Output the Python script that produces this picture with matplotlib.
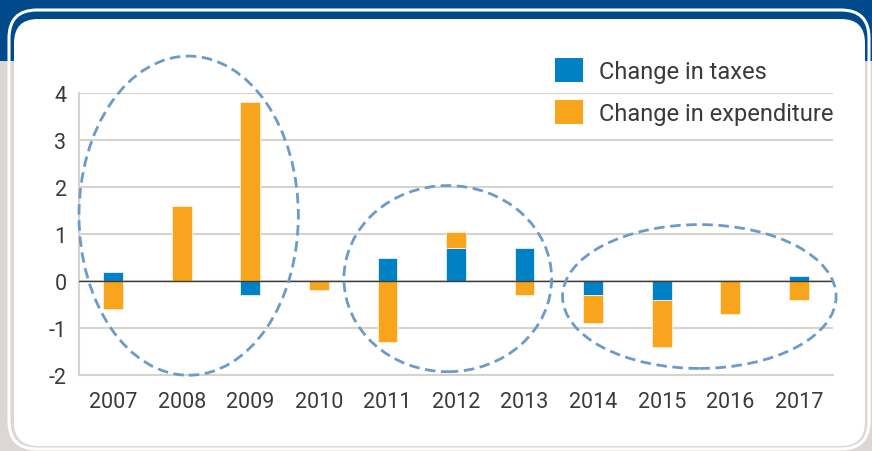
import matplotlib
matplotlib.use("Agg")
import matplotlib.pyplot as plt
import numpy as np
from matplotlib.patches import Ellipse, FancyBboxPatch, Patch, Rectangle

plt.rcParams['font.family'] = ['Roboto', 'DejaVu Sans']
plt.rcParams['axes.unicode_minus'] = False

years = ['2007', '2008', '2009', '2010', '2011', '2012', '2013',
         '2014', '2015', '2016', '2017']
taxes = [0.2, 0.0, -0.3, 0.0, 0.5, 0.7, 0.7, -0.3, -0.4, 0.0, 0.1]
expenditure = [-0.6, 1.6, 3.8, -0.2, -1.3, 0.35, -0.3, -0.6, -1.0, -0.7, -0.4]

BLUE = '#0081c6'
ORANGE = '#f8a51d'
GRID = '#d8d2cf'
DASH = '#6b9bc9'
TEXT = '#3a3a3a'

W, H = 872, 452
fig = plt.figure(figsize=(W / 100, H / 100), dpi=100)
fig.patch.set_facecolor('#dcd7d4')

# page background: dark blue band at top, rounded white panel
fig.patches.append(Rectangle((0, H - 62), W, 62, transform=None,
                             facecolor='#004a8b', edgecolor='none', zorder=0))
fig.patches.append(FancyBboxPatch((9, 2), 860, 439, transform=None,
                                  boxstyle='round,pad=0,rounding_size=28',
                                  facecolor='none', edgecolor='white',
                                  linewidth=2.2, zorder=1))
fig.patches.append(FancyBboxPatch((14, 5), 851, 427, transform=None,
                                  boxstyle='round,pad=0,rounding_size=24',
                                  facecolor='white', edgecolor='none', zorder=2))

ax = fig.add_axes([79 / W, 1 - 376 / H, 754 / W, 282 / H])
ax.set_zorder(3)
ax.set_facecolor('none')

x = np.arange(len(years))
width = 0.29
tax_arr = np.array(taxes)
exp_arr = np.array(expenditure)
# stacked like a spreadsheet: same-sign values stack, opposite signs start at 0
exp_bottom = np.where(np.sign(exp_arr) == np.sign(tax_arr), tax_arr, 0.0)

ax.bar(x, tax_arr, width, color=BLUE, edgecolor='#e8f2f8', linewidth=0.6,
       zorder=3, label='Change in taxes')
ax.bar(x, exp_arr, width, bottom=exp_bottom, color=ORANGE, edgecolor='#fdf0d8',
       linewidth=0.6, zorder=3, label='Change in expenditure')

ax.set_xlim(-0.5, len(years) - 0.5)
ax.set_ylim(-2, 4)
ax.set_yticks(np.arange(-2, 5, 1))
ax.set_xticks(x)
ax.set_xticklabels(years)
ax.yaxis.grid(True, color=GRID, linewidth=1.5, zorder=0)
ax.axhline(0, color='#3c3c3c', linewidth=1.0, zorder=4)
ax.tick_params(length=0, labelsize=15.5, labelcolor=TEXT)
ax.tick_params(axis='y', pad=9)
ax.tick_params(axis='x', pad=11.5)
for side in ['top', 'right']:
    ax.spines[side].set_visible(False)
ax.spines['left'].set_color(GRID)
ax.spines['left'].set_linewidth(1.5)
ax.spines['bottom'].set_color(GRID)
ax.spines['bottom'].set_linewidth(1.5)

# dashed ellipses around groups of years
ell_specs = [
    # (x centre, y centre, width, height) in data units
    (1.10, 1.39, 3.20, 6.79),
    (4.88, 0.05, 3.03, 3.96),
    (8.55, -0.33, 3.99, 3.06),
]
for xc, yc, ew, eh in ell_specs:
    e = Ellipse((xc, yc), ew, eh, facecolor='none', edgecolor=DASH,
                linewidth=2.0, linestyle=(0, (3.8, 2.0)), zorder=5, clip_on=False)
    ax.add_patch(e)

handles = [Patch(facecolor=BLUE, edgecolor='none'),
           Patch(facecolor=ORANGE, edgecolor='none')]
leg = fig.legend(handles, ['Change in taxes', 'Change in expenditure'],
                 loc='upper left', bbox_to_anchor=(555 / W, 1 - 59 / H),
                 frameon=False, fontsize=17, borderpad=0, borderaxespad=0,
                 handlelength=1.18, handleheight=1.18, handletextpad=0.68,
                 labelspacing=0.72, labelcolor=TEXT)
leg.set_zorder(6)

fig.savefig('out.png', dpi=100, facecolor=fig.get_facecolor())
